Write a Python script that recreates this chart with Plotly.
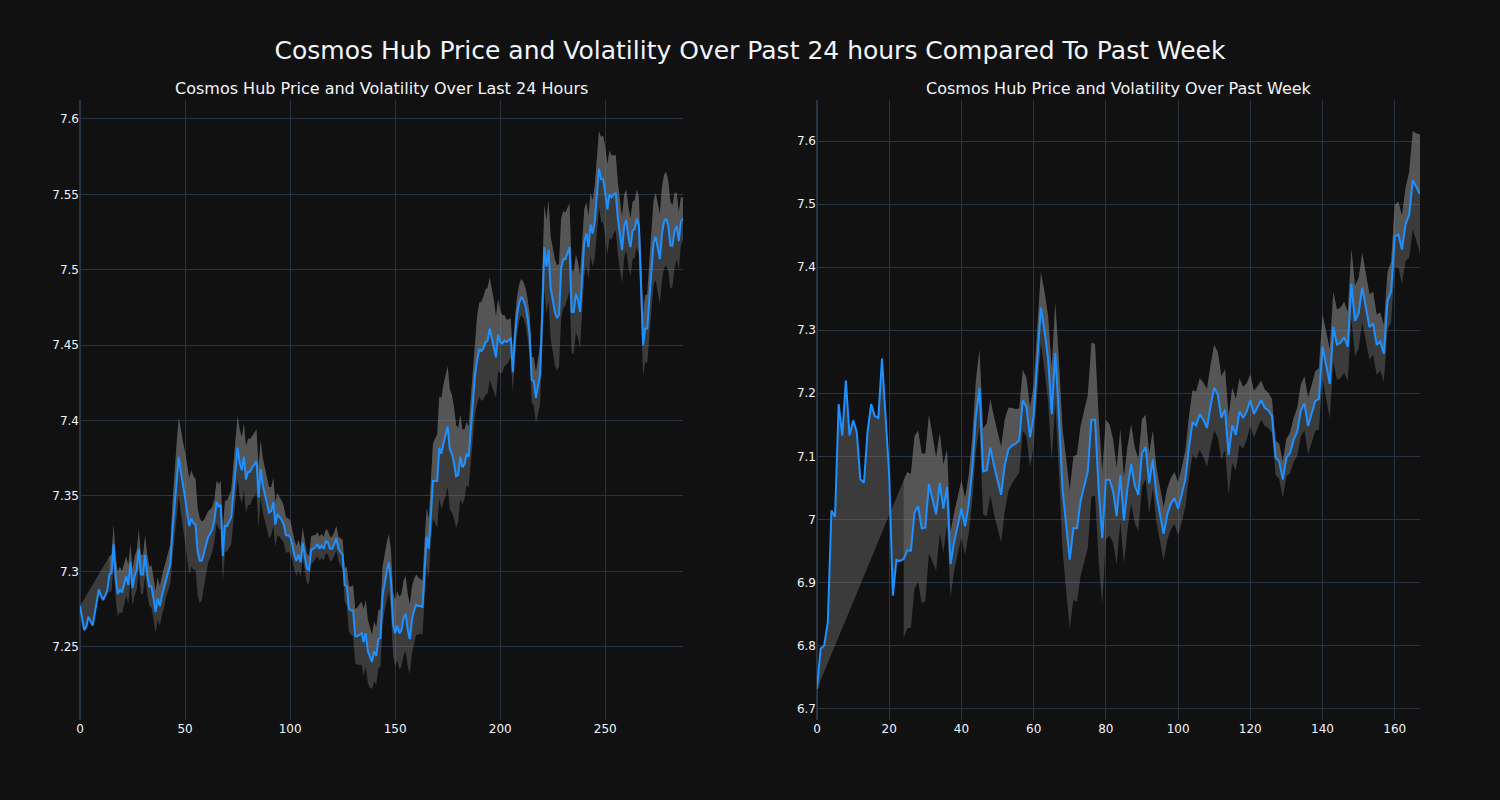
import plotly.graph_objects as go
from plotly.subplots import make_subplots

# ---------------- Data: last 24 hours (5-minute steps) ----------------
day_price = [
    7.277, 7.268, 7.261, 7.263, 7.270, 7.267, 7.264, 7.272, 7.280, 7.288,
    7.284, 7.281, 7.284, 7.287, 7.298, 7.299, 7.318, 7.295, 7.285, 7.288,
    7.286, 7.292, 7.297, 7.291, 7.306, 7.289, 7.297, 7.301, 7.315, 7.298,
    7.298, 7.311, 7.298, 7.290, 7.290, 7.282, 7.273, 7.282, 7.277, 7.284,
    7.289, 7.295, 7.300, 7.305, 7.327, 7.345, 7.360, 7.376, 7.366, 7.358,
    7.349, 7.339, 7.330, 7.335, 7.332, 7.331, 7.313, 7.307, 7.307, 7.312,
    7.318, 7.323, 7.325, 7.328, 7.334, 7.346, 7.343, 7.344, 7.310, 7.330,
    7.330, 7.333, 7.336, 7.352, 7.370, 7.382, 7.372, 7.367, 7.376, 7.361,
    7.366, 7.366, 7.369, 7.371, 7.373, 7.349, 7.368, 7.357, 7.351, 7.345,
    7.339, 7.340, 7.346, 7.331, 7.338, 7.336, 7.334, 7.331, 7.324, 7.324,
    7.323, 7.318, 7.311, 7.307, 7.311, 7.306, 7.319, 7.310, 7.302, 7.301,
    7.314, 7.315, 7.316, 7.318, 7.315, 7.317, 7.315, 7.320, 7.319, 7.315,
    7.315, 7.318, 7.322, 7.315, 7.313, 7.311, 7.291, 7.290, 7.275, 7.274,
    7.274, 7.257, 7.257, 7.258, 7.259, 7.253, 7.259, 7.247, 7.243, 7.240,
    7.247, 7.244, 7.255, 7.256, 7.284, 7.293, 7.300, 7.306, 7.294, 7.265,
    7.259, 7.264, 7.259, 7.261, 7.269, 7.272, 7.261, 7.255, 7.268, 7.274,
    7.278, 7.277, 7.277, 7.276, 7.302, 7.323, 7.315, 7.342, 7.360, 7.360,
    7.360, 7.382, 7.378, 7.385, 7.390, 7.396, 7.381, 7.378, 7.372, 7.363,
    7.364, 7.376, 7.369, 7.371, 7.378, 7.376, 7.394, 7.410, 7.430, 7.440,
    7.447, 7.446, 7.448, 7.452, 7.453, 7.461, 7.455, 7.450, 7.442, 7.457,
    7.452, 7.451, 7.453, 7.452, 7.453, 7.455, 7.432, 7.455, 7.470, 7.478,
    7.482, 7.480, 7.476, 7.468, 7.457, 7.427, 7.426, 7.415, 7.423, 7.431,
    7.470, 7.515, 7.502, 7.513, 7.488, 7.479, 7.472, 7.468, 7.470, 7.501,
    7.507, 7.507, 7.511, 7.515, 7.472, 7.472, 7.484, 7.480, 7.472, 7.497,
    7.518, 7.524, 7.515, 7.530, 7.524, 7.532, 7.550, 7.567, 7.560, 7.560,
    7.551, 7.540, 7.550, 7.548, 7.550, 7.551, 7.534, 7.524, 7.513, 7.529,
    7.533, 7.522, 7.515, 7.526, 7.527, 7.534, 7.529, 7.491, 7.450, 7.461,
    7.461, 7.481, 7.502, 7.518, 7.522, 7.515, 7.507, 7.524, 7.532, 7.534,
    7.529, 7.516, 7.516, 7.526, 7.529, 7.519, 7.532, 7.534,
]
day_vol = [None] * 14 + [
    0.012, 0.012, 0.013, 0.014, 0.015, 0.015, 0.014, 0.013, 0.013, 0.013,
    0.012, 0.012, 0.013, 0.013, 0.013, 0.013,
    0.013, 0.013, 0.013, 0.013, 0.014, 0.014, 0.014, 0.014, 0.013, 0.013,
    0.013, 0.012, 0.012, 0.013,
    0.018, 0.022, 0.025, 0.026, 0.027, 0.028, 0.030,
    0.031, 0.032, 0.032, 0.031, 0.030, 0.029, 0.028, 0.026,
    0.022, 0.019, 0.017, 0.016, 0.015, 0.014, 0.014, 0.015,
    0.016, 0.017, 0.017, 0.017, 0.017, 0.018, 0.019,
    0.020, 0.021, 0.022, 0.022, 0.022, 0.022, 0.022, 0.022, 0.021, 0.021,
    0.021, 0.020,
    0.019, 0.018, 0.018, 0.017, 0.017, 0.016, 0.016, 0.015, 0.014, 0.013,
    0.013, 0.012, 0.012, 0.011,
    0.011, 0.010, 0.010, 0.010, 0.010, 0.010, 0.010, 0.010, 0.010, 0.009,
    0.009, 0.009, 0.008, 0.008, 0.008, 0.008, 0.008, 0.008, 0.008, 0.008,
    0.008, 0.008, 0.008, 0.008, 0.009, 0.010,
    0.011, 0.013, 0.015, 0.016, 0.017, 0.018, 0.019, 0.020, 0.021, 0.022,
    0.022, 0.021, 0.020, 0.018, 0.020, 0.019, 0.019, 0.019,
    0.019, 0.019, 0.019, 0.019, 0.020,
    0.021, 0.022, 0.023, 0.024, 0.024, 0.025, 0.025, 0.024, 0.023, 0.022,
    0.021, 0.020, 0.019, 0.018, 0.018,
    0.018, 0.019, 0.020, 0.022, 0.025, 0.028, 0.031,
    0.034, 0.037, 0.039, 0.040, 0.040, 0.040, 0.039, 0.037, 0.034, 0.031,
    0.028, 0.025, 0.023, 0.021, 0.020, 0.021,
    0.023, 0.026, 0.029, 0.031, 0.033, 0.034, 0.035, 0.035, 0.034, 0.032,
    0.030, 0.027, 0.024, 0.021,
    0.019, 0.017, 0.015, 0.014, 0.013, 0.013, 0.013, 0.012, 0.012, 0.012,
    0.012, 0.012, 0.013, 0.014,
    0.015, 0.016, 0.017, 0.018, 0.020, 0.024,
    0.028, 0.031, 0.033, 0.034, 0.035, 0.035, 0.035, 0.034, 0.033, 0.032,
    0.031, 0.030, 0.029,
    0.028, 0.027, 0.026, 0.025, 0.024, 0.023, 0.022, 0.021, 0.021, 0.021,
    0.022, 0.024, 0.025,
    0.025, 0.028, 0.029, 0.030, 0.030, 0.029, 0.028, 0.026, 0.025, 0.024,
    0.023, 0.022, 0.021, 0.020, 0.020, 0.019, 0.019, 0.019, 0.019, 0.019,
    0.020, 0.021, 0.022, 0.023, 0.025, 0.027, 0.028, 0.029, 0.030,
    0.030, 0.031, 0.031, 0.031, 0.030, 0.029, 0.027, 0.025, 0.022, 0.019,
    0.016, 0.014,
]

# ---------------- Data: past week (hourly steps) ----------------
week_price = [
    6.731, 6.795, 6.800, 6.838, 7.014, 7.004, 7.183, 7.133, 7.220, 7.133,
    7.157, 7.139, 7.064, 7.058, 7.139, 7.183, 7.164, 7.161, 7.255, 7.164,
    7.070, 6.879, 6.936, 6.934, 6.937, 6.951, 6.950, 7.011, 7.021, 6.986,
    6.987, 7.056, 7.033, 7.008, 7.058, 7.017, 7.051, 6.929, 6.965, 6.990,
    7.017, 6.989, 7.023, 7.080, 7.164, 7.208, 7.076, 7.078, 7.114, 7.086,
    7.061, 7.039, 7.086, 7.111, 7.117, 7.120, 7.125, 7.189, 7.178, 7.130,
    7.164, 7.252, 7.336, 7.299, 7.255, 7.167, 7.264, 7.164, 7.048, 6.992,
    6.936, 6.986, 6.986, 7.029, 7.051, 7.076, 7.158, 7.158, 7.048, 6.970,
    7.063, 7.063, 7.045, 7.005, 7.070, 6.998, 7.050, 7.088, 7.054, 7.039,
    7.105, 7.115, 7.057, 7.095, 7.039, 7.005, 6.977, 7.008, 7.025, 7.034,
    7.017, 7.039, 7.064, 7.114, 7.154, 7.149, 7.167, 7.158, 7.145, 7.180,
    7.209, 7.198, 7.161, 7.174, 7.102, 7.149, 7.134, 7.171, 7.161, 7.171,
    7.189, 7.167, 7.177, 7.189, 7.177, 7.173, 7.164, 7.098, 7.092, 7.063,
    7.098, 7.105, 7.126, 7.139, 7.173, 7.184, 7.148, 7.167, 7.188, 7.191,
    7.274, 7.245, 7.215, 7.305, 7.277, 7.280, 7.289, 7.274, 7.374, 7.315,
    7.327, 7.368, 7.336, 7.305, 7.311, 7.277, 7.282, 7.263, 7.346, 7.361,
    7.449, 7.452, 7.428, 7.468, 7.483, 7.538, 7.527, 7.516,
]
week_vol = [None] * 24 + [
    0.125, 0.124, 0.122, 0.121, 0.120, 0.119, 0.117,
    0.110, 0.100, 0.090, 0.080, 0.070, 0.060, 0.052,
    0.046, 0.045, 0.045, 0.045, 0.046, 0.050,
    0.056, 0.062, 0.068,
    0.074, 0.076, 0.077, 0.077, 0.076, 0.073,
    0.066, 0.060, 0.055, 0.051, 0.048, 0.047, 0.047, 0.048, 0.051,
    0.056, 0.062, 0.068, 0.074, 0.080, 0.088,
    0.096, 0.104, 0.110, 0.114, 0.117, 0.119, 0.120, 0.121,
    0.122, 0.120, 0.114, 0.105,
    0.095, 0.088, 0.082, 0.077, 0.073, 0.069, 0.066, 0.063, 0.060, 0.057, 0.054,
    0.051, 0.048, 0.046, 0.044, 0.043, 0.042, 0.041, 0.041, 0.041, 0.042,
    0.043, 0.045, 0.048,
    0.051, 0.054, 0.057, 0.059, 0.062, 0.065, 0.068, 0.068, 0.066, 0.064,
    0.062, 0.060, 0.057, 0.053, 0.049,
    0.045, 0.041, 0.037, 0.034, 0.031, 0.029, 0.028, 0.027, 0.027, 0.028,
    0.029, 0.030, 0.032,
    0.035, 0.038, 0.041, 0.043, 0.045, 0.046, 0.047, 0.049,
    0.051, 0.053, 0.055, 0.056, 0.056, 0.056, 0.056, 0.055,
    0.055, 0.056, 0.056, 0.055, 0.054, 0.052, 0.050, 0.048, 0.046, 0.045,
    0.046, 0.048, 0.050, 0.052, 0.054, 0.058,
    0.068, 0.078, 0.085, 0.095,
]

main_title = "Cosmos Hub Price and Volatility Over Past 24 hours Compared To Past Week"
sub_titles = ("Cosmos Hub Price and Volatility Over Last 24 Hours",
              "Cosmos Hub Price and Volatility Over Past Week")

LINE_COLOR = "dodgerblue"
BAND_COLOR = "rgba(128,128,128,0.38)"
FONT = "DejaVu Sans"


def band(price, vol):
    upper = [None if v is None else p + v for p, v in zip(price, vol)]
    lower = [None if v is None else p - v for p, v in zip(price, vol)]
    return upper, lower


fig = make_subplots(rows=1, cols=2, subplot_titles=sub_titles)

for col, (price, vol) in enumerate([(day_price, day_vol), (week_price, week_vol)], start=1):
    x = list(range(len(price)))
    upper, lower = band(price, vol)
    # base (price) for the band fill
    fig.add_trace(go.Scatter(x=x, y=price, mode="lines", line=dict(width=0, color=LINE_COLOR),
                             showlegend=False, hoverinfo="skip"), row=1, col=col)
    fig.add_trace(go.Scatter(x=x, y=upper, mode="lines", line=dict(width=0, color="gray"),
                             fill="tonexty", fillcolor=BAND_COLOR, showlegend=False), row=1, col=col)
    fig.add_trace(go.Scatter(x=x, y=lower, mode="lines", line=dict(width=0, color="gray"),
                             fill="tonexty", fillcolor=BAND_COLOR, showlegend=False), row=1, col=col)
    fig.add_trace(go.Scatter(x=x, y=price, mode="lines", line=dict(width=2, color=LINE_COLOR),
                             showlegend=False), row=1, col=col)

fig.update_layout(
    template="plotly_dark",
    width=1500,
    height=800,
    font=dict(family=FONT),
    title=dict(text=main_title, x=0.5, xanchor="center", y=1 - 50 / 800, yanchor="middle",
               font=dict(size=25, family=FONT)),
    showlegend=False,
)
fig.update_annotations(font=dict(size=16, family=FONT))

fig.write_html("out.html", config={"displayModeBar": False},
               post_script="document.body.style.margin='0';")
